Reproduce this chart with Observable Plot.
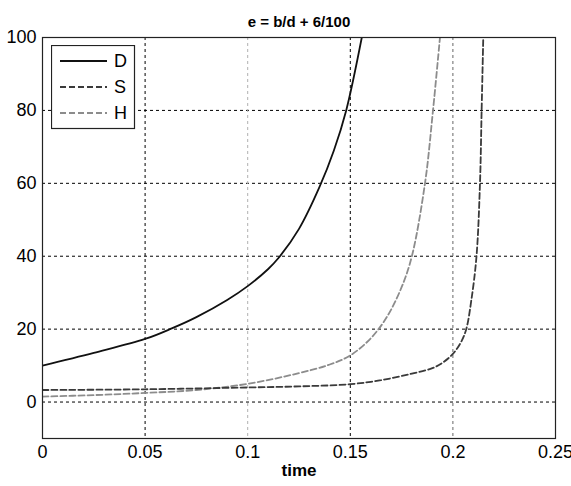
<!DOCTYPE html>
<html>
<head>
<meta charset="utf-8">
<script src="https://cdn.jsdelivr.net/npm/d3@7"></script>
<script src="https://cdn.jsdelivr.net/npm/@observablehq/plot@0.6"></script>
<style>
  body { margin: 0; background: #fff; }
  #chart { position: relative; width: 571px; height: 486px; font-family: "Liberation Sans", Arial, Helvetica, sans-serif; }
  #legend { position: absolute; left: 51px; top: 45px; }
</style>
</head>
<body>
<div id="chart"></div>
<script>
// Labels and ticks
const titleText = "e = b/d + 6/100";
const xLabel = "time";
const xTicks = [0, 0.05, 0.1, 0.15, 0.2, 0.25];
const xTickLabels = ["0", "0.05", "0.1", "0.15", "0.2", "0.25"];
const yTicks = [0, 20, 40, 60, 80, 100];
const seriesNames = ["D", "S", "H"];

// D: solid curve
const tD = [0, 0.025, 0.05, 0.063, 0.075, 0.09, 0.1, 0.11, 0.115, 0.125, 0.135, 0.142, 0.148, 0.1556];
const valD = [10, 13.5, 17.3, 20.2, 23.3, 28, 31.8, 36.5, 39.5, 47.5, 59, 69, 80, 100];

// S: dark dashed curve
const tS = [0, 0.05, 0.1, 0.125, 0.15, 0.165, 0.18, 0.19, 0.195, 0.2, 0.204, 0.2065, 0.209, 0.2115, 0.2132, 0.214, 0.2148];
const valS = [3.3, 3.5, 4.0, 4.3, 4.9, 6.0, 7.8, 9.3, 10.8, 13.2, 16.5, 20, 28, 40, 60, 80, 100];

// H: light dashed curve
const tH = [0, 0.025, 0.05, 0.075, 0.1, 0.124, 0.14, 0.15, 0.16, 0.168, 0.175, 0.18, 0.1864, 0.1903, 0.1937];
const valH = [1.5, 1.9, 2.5, 3.3, 5.0, 7.8, 10.3, 12.8, 17.5, 23.5, 31.5, 40, 60, 80, 100];

const styles = {
  D: {stroke: "#111", dash: null, width: 1.8},
  S: {stroke: "#3a3a3a", dash: "6,3", width: 1.8},
  H: {stroke: "#8c8c8c", dash: "6,3", width: 1.8}
};
const seriesData = {D: [tD, valD], S: [tS, valS], H: [tH, valH]};
const rows = seriesNames.flatMap(name => seriesData[name][0].map((t, i) => ({series: name, t, v: seriesData[name][1][i]})));

// vertical grid shades
const vGridColor = {0.05: "#000", 0.1: "#b0b0b0", 0.15: "#000", 0.2: "#666"};

const font = `"Liberation Sans", Arial, Helvetica, sans-serif`;

const chart = Plot.plot({
  width: 571,
  height: 486,
  marginLeft: 42,
  marginRight: 16,
  marginTop: 37,
  marginBottom: 48,
  style: {fontFamily: font, fontSize: "18px", color: "#000", background: "#fff"},
  x: {domain: [0, 0.25]},
  y: {domain: [-10, 100]},
  marks: [
    Plot.ruleY(yTicks, {stroke: "#000", strokeDasharray: "3,3", strokeWidth: 1}),
    Plot.ruleX(xTicks.slice(1, -1), {stroke: d => vGridColor[d], strokeDasharray: "3,3", strokeWidth: 1}),
    ...["H", "S", "D"].map(name => Plot.line(rows.filter(r => r.series === name), {
      x: "t", y: "v", curve: "catmull-rom", clip: true,
      stroke: styles[name].stroke,
      strokeWidth: styles[name].width,
      strokeDasharray: styles[name].dash
    })),
    Plot.frame({stroke: "#222", strokeWidth: 1.2}),
    Plot.axisX(xTicks, {tickSize: 0, tickPadding: 7, tickFormat: (d, i) => xTickLabels[i], label: null, fontSize: 18}),
    Plot.axisY(yTicks, {tickSize: 0, tickPadding: 6, label: null, fontSize: 18}),
    Plot.text([xLabel], {frameAnchor: "bottom", dy: 37, fontWeight: "bold", fontSize: 17}),
    Plot.text([titleText], {frameAnchor: "top", dy: -21, fontWeight: "bold", fontSize: 15})
  ]
});

const root = document.getElementById("chart");
root.appendChild(chart);

// Legend box inside the axes, top-left
const lg = d3.select(root).append("svg")
  .attr("id", "legend")
  .attr("width", 85).attr("height", 85);
lg.append("rect").attr("x", 0.5).attr("y", 0.5).attr("width", 83).attr("height", 83)
  .attr("fill", "#fff").attr("stroke", "#222").attr("stroke-width", 1.2);
seriesNames.forEach((name, i) => {
  const y = 16 + i * 26;
  lg.append("line").attr("x1", 9).attr("x2", 56).attr("y1", y).attr("y2", y)
    .attr("stroke", styles[name].stroke).attr("stroke-width", styles[name].width)
    .attr("stroke-dasharray", styles[name].dash);
  lg.append("text").attr("x", 63).attr("y", y).attr("dy", "0.36em")
    .attr("font-family", font).attr("font-size", 18).text(name);
});
</script>
</body>
</html>
